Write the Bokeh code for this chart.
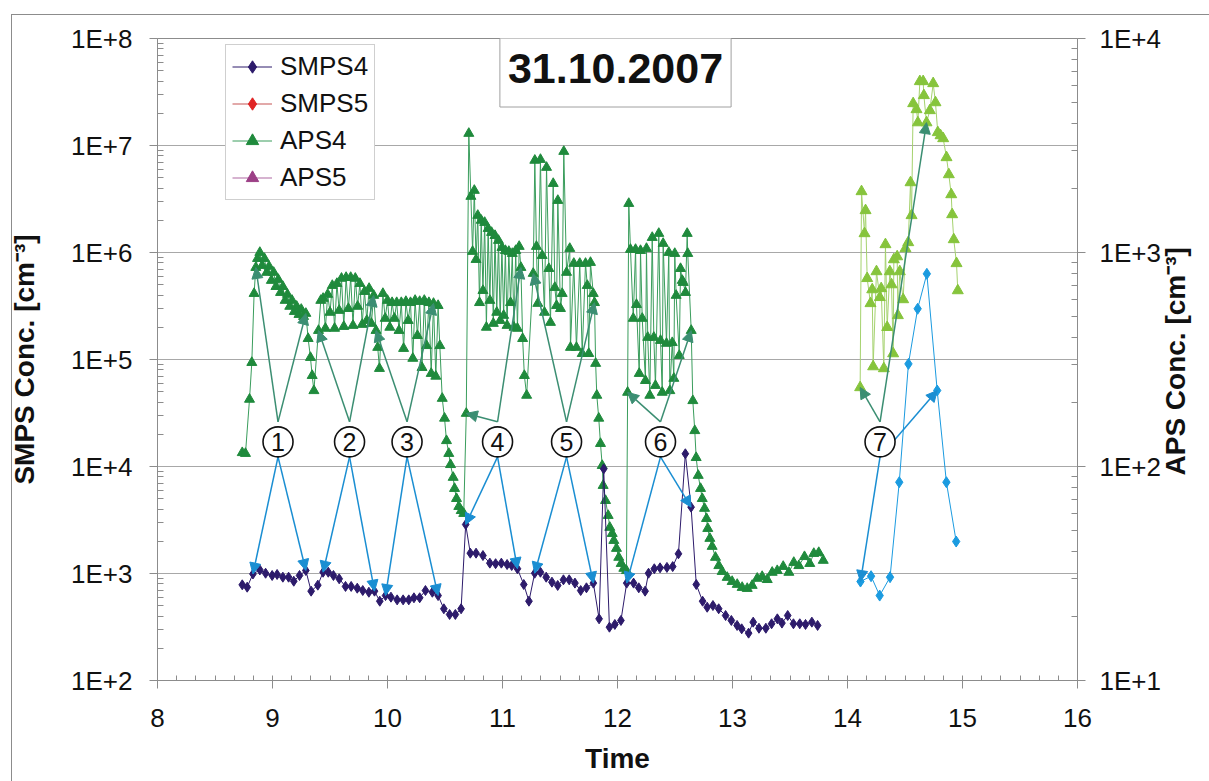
import math
from bokeh.plotting import figure
from bokeh.models import (Range1d, LogScale, LogAxis, FixedTicker, CustomJSTickFormatter,
                          Legend, LegendItem, Arrow, NormalHead, Label)
from bokeh.embed import file_html
from bokeh.resources import INLINE
from bokeh.core.properties import value

# ---------------- data ----------------
# SMPS4, left axis [cm^-3]
smps4_t = [8.737, 8.78, 8.83, 8.89, 8.94, 8.997, 9.04, 9.09, 9.14, 9.185, 9.235, 9.29, 9.336, 9.394,
           9.44, 9.485, 9.53, 9.58, 9.635, 9.684, 9.737, 9.785, 9.838, 9.887, 9.933, 9.983, 10.03,
           10.084, 10.136, 10.185, 10.23, 10.28, 10.33, 10.39, 10.44, 10.49, 10.54, 10.59, 10.64,
           10.68, 10.72, 10.77, 10.83, 10.89, 10.94, 10.99, 11.04, 11.08, 11.13, 11.185, 11.23, 11.28,
           11.33, 11.38, 11.43, 11.48, 11.53, 11.58, 11.63, 11.68, 11.73, 11.79, 11.84, 11.88, 11.93,
           11.977, 12.03, 12.08, 12.14, 12.185, 12.24, 12.27, 12.32, 12.37, 12.43, 12.48, 12.53, 12.59,
           12.64, 12.685, 12.74, 12.78, 12.83, 12.88, 12.94, 12.99, 13.04, 13.08, 13.14, 13.18, 13.23,
           13.29, 13.34, 13.39, 13.43, 13.48, 13.53, 13.585, 13.635, 13.69, 13.74]
smps4_v = [784, 745, 990, 1080, 1006, 958, 979, 924, 924, 847, 958, 1067, 684, 778,
           1028, 1028, 958, 892, 757, 757, 729, 693, 668, 684, 551, 622, 601,
           567, 567, 567, 593, 593, 693, 668, 622, 468, 414, 414, 468,
           2870, 1549, 1549, 1472, 1250, 1235, 1250, 1213, 1188, 1107, 789, 551, 1006,
           1028, 924, 830, 773, 873, 873, 813, 693, 735, 813, 377, 9500, 315,
           334, 364, 813, 813, 735, 684, 1006, 1107, 1130, 1140, 1160, 1528, 13150,
           4170, 789, 551, 484, 502, 468, 405, 364, 327, 304, 277, 351, 308,
           308, 339, 377, 344, 405, 339, 339, 334, 351, 327]

# later SMPS measurement (light blue), left axis
smps_late_t = [14.113, 14.205, 14.28, 14.37, 14.45, 14.53, 14.61, 14.69, 14.78, 14.86, 14.945]
smps_late_v = [841, 944, 622, 924, 7130, 91000, 298000, 632000, 51300, 7130, 1990]

# APS4, right axis [cm^-3]
aps4_t = [8.737, 8.765, 8.80, 8.82, 8.84, 8.855,
          8.87, 8.89, 8.91, 8.93, 8.95, 8.97, 8.99, 9.01, 9.03, 9.05, 9.07, 9.09, 9.11, 9.13, 9.15,
          9.17, 9.19, 9.21, 9.23, 9.25, 9.27, 9.29,
          9.31, 9.33, 9.345, 9.36,
          9.40, 9.42, 9.44, 9.46, 9.48, 9.50, 9.52, 9.54, 9.56, 9.58, 9.60, 9.62, 9.64, 9.66, 9.68,
          9.70, 9.72, 9.74, 9.76, 9.78, 9.80, 9.82, 9.84, 9.86, 9.88, 9.90, 9.915, 9.93,
          9.96, 9.98, 10.00, 10.02, 10.04, 10.06, 10.08, 10.10, 10.12, 10.14, 10.16, 10.18, 10.20,
          10.22, 10.24, 10.26, 10.28, 10.30, 10.32, 10.34, 10.36, 10.38, 10.40, 10.42, 10.44, 10.455,
          10.476, 10.496, 10.513, 10.533, 10.548, 10.571, 10.583, 10.60, 10.62, 10.641, 10.663, 10.685,
          10.707, 10.725, 10.74, 10.755, 10.77, 10.785, 10.80, 10.815, 10.83, 10.845, 10.86, 10.875,
          10.89, 10.905, 10.92, 10.935, 10.95, 10.965, 10.98, 10.995, 11.01, 11.025, 11.04, 11.055,
          11.07, 11.085, 11.10, 11.115, 11.13, 11.145, 11.16, 11.175, 11.19, 11.21,
          11.267, 11.281, 11.295, 11.307, 11.33, 11.345, 11.365, 11.383, 11.403, 11.417, 11.441,
          11.455, 11.47, 11.481, 11.504, 11.519, 11.533, 11.557, 11.585, 11.591, 11.62, 11.643,
          11.672, 11.693, 11.722, 11.737, 11.75, 11.765, 11.789, 11.80, 11.81, 11.82,
          11.837, 11.852, 11.867, 11.875, 11.896, 11.919, 11.933, 11.954, 11.968, 11.991, 12.011,
          12.032, 12.055, 12.078, 12.088, 12.098,
          12.113, 12.137, 12.157, 12.165, 12.189, 12.20, 12.215, 12.243, 12.252, 12.263, 12.281,
          12.302, 12.316, 12.33, 12.359, 12.374, 12.389, 12.397, 12.426, 12.446, 12.455, 12.476,
          12.49, 12.498, 12.51, 12.537, 12.548, 12.563, 12.571, 12.591, 12.606, 12.611, 12.641, 12.655,
          12.672, 12.684, 12.702, 12.722, 12.737, 12.757, 12.774, 12.785, 12.803, 12.823, 12.852,
          12.881, 12.91, 12.954, 12.997, 13.041, 13.084, 13.128, 13.171, 13.215, 13.258, 13.302,
          13.345, 13.389, 13.441, 13.49, 13.533, 13.577, 13.626, 13.672, 13.707, 13.75, 13.789]
aps4_v = [116, 115, 206, 306, 643, 851,
          937, 1000, 869, 937, 807, 861, 740, 807, 693, 748, 650, 693, 597, 637, 560,
          597, 530, 560, 513, 542, 502, 519,
          396, 323, 266, 226,
          432, 597, 610, 442, 637, 525, 701, 442, 716, 536, 757, 451, 764, 547, 764,
          456, 757, 560, 716, 461, 657, 481, 679, 466, 630, 432, 360, 287,
          643, 492, 597, 447, 583, 492, 583, 432, 583, 356, 590, 481, 583,
          320, 597, 409, 590, 290, 597, 367, 583, 272, 578, 264, 565, 367,
          208, 168, 132, 115, 102, 88.9, 78.9, 70.8, 65.0, 62.2, 60.3, 177,
          3600, 1828, 1011, 1950, 927, 1490, 583, 1413, 664, 1381, 447, 1294,
          597, 1240, 466, 1200, 525, 1138, 481, 1055, 508, 1021, 456, 1011,
          583, 989, 447, 1021, 442, 1067, 851, 396, 266, 215,
          798, 2695, 1067, 578, 2720, 968, 525, 2497, 841, 471, 2100,
          686, 565, 1750, 547, 643, 2965, 807, 1044, 360, 889, 360,
          889, 337, 889, 701, 337, 898, 643, 583, 303, 215,
          168, 128, 101, 81.5, 69.3, 59.0, 51.9, 48.6, 45.1, 41.4, 37.6,
          35.2, 33.4, 32.6, 222, 1694,
          1033, 492, 1033, 571, 272, 1021, 492, 252, 1044, 401, 215,
          1175, 401, 239, 1227, 388, 222, 1102, 376, 1000, 226, 379,
          258, 989, 630, 330, 841, 740, 724, 650, 1227, 989, 432, 203,
          147, 110, 90.8, 78.9, 70.8, 63.7, 57.1, 51.3, 46.1, 42.3, 37.6,
          34.4, 32.3, 30.3, 29.0, 28.1, 27.2, 26.9, 27.8, 30.0, 30.6, 29.6,
          32.0, 32.6, 34.1, 32.0, 35.6, 34.4, 37.9, 35.2, 39.2, 39.6, 36.4]

# later APS measurement (light green), right axis
aps_late_t = [14.11, 14.122, 14.148, 14.157, 14.171, 14.20, 14.215, 14.223, 14.252, 14.281,
              14.293, 14.316, 14.33, 14.345, 14.368, 14.383, 14.397, 14.403, 14.432, 14.438,
              14.455, 14.484, 14.504, 14.528, 14.548, 14.557, 14.571, 14.60, 14.612, 14.629,
              14.658, 14.664, 14.687, 14.716, 14.745, 14.765, 14.785, 14.809, 14.832, 14.861,
              14.881, 14.902, 14.91, 14.924, 14.948, 14.959]
aps_late_v = [234, 1928, 1227, 1572, 757, 578, 671, 293, 815, 617,
              679, 287, 1090, 447, 815, 708, 337, 927, 957, 508,
              815, 603, 1044, 1114, 2123, 1490, 4970, 4660, 4045, 6300,
              6300, 5420, 4045, 4610, 6165, 5020, 3640, 3520, 3410, 2780,
              2314, 1866, 1505, 1150, 889, 664]

# numbered annotations: label time, APS targets (times), SMPS targets (times)
ann_labels = ["1", "2", "3", "4", "5", "6", "7"]
ann_t = [9.048, 9.67, 10.17, 10.957, 11.557, 12.374, 14.283]
ann_y = 1.7e4
ann_aps_targets = [(8.855, 9.29), (9.40, 9.88), (9.90, 10.40), (10.685, 11.16),
                   (11.267, 11.80), (12.088, 12.641), (14.11, 14.687)]
ann_smps_targets = [(8.83, 9.29), (9.44, 9.887), (9.983, 10.44), (10.68, 11.13),
                    (11.28, 11.79), (12.08, 12.64), (14.113, 14.78)]

title_text = "31.10.2007"
left_title = "SMPS Conc. [cm⁻³]"
right_title = "APS Conc. [cm⁻³]"
x_title = "Time"
x_ticks = [8, 9, 10, 11, 12, 13, 14, 15, 16]
left_ticks = [1e2, 1e3, 1e4, 1e5, 1e6, 1e7, 1e8]
right_ticks = [1e1, 1e2, 1e3, 1e4]

# ---------------- styling ----------------
FONT = "Liberation Sans"
GREY = "#8c8c8c"
C_SMPS4 = "#2d1b6b"
C_SMPS5 = "#e02424"
C_APS4 = "#1f8a3c"
C_APS4_LINE = "#3a9d5c"
C_APS5 = "#9c3f86"
C_LBLUE = "#1b9be0"
C_LGREEN = "#86c43c"
C_LGREEN_LINE = "#a5d26e"
C_TEAL = "#3b8e72"
C_BLUE = "#1a8ed2"

W, H = 1209, 781
FL, FR, FT, FB = 157, 132, 38, 101   # frame borders
frame_h = H - FT - FB
dec_px = frame_h / 6.0

p = figure(width=W, height=H, x_range=Range1d(8, 16), y_range=Range1d(1e2, 1e8),
           y_axis_type="log", output_backend="svg", toolbar_location=None,
           min_border_left=FL, min_border_right=FR, min_border_top=FT, min_border_bottom=FB)
# outer chart-area border (top and left edges), drawn as CSS background behind a transparent border fill
p.border_fill_alpha = 0
p.styles = {"background": ("linear-gradient(#8c8c8c,#8c8c8c) 11px 14px / 1px 767px no-repeat, "
                           "linear-gradient(#8c8c8c,#8c8c8c) 11px 14px / 1198px 1px no-repeat, #ffffff")}
p.outline_line_color = GREY
p.background_fill_color = "white"

fmt_code = 'return "1E+" + Math.round(Math.log10(tick));'


def style_axis(ax):
    ax.axis_line_color = GREY
    ax.major_tick_line_color = GREY
    ax.minor_tick_line_color = GREY
    ax.major_tick_out = 8
    ax.major_tick_in = 0
    ax.minor_tick_in = 6
    ax.minor_tick_out = 0
    ax.major_label_text_font = FONT
    ax.major_label_text_font_size = "26px"
    ax.major_label_text_color = "#111111"
    ax.axis_label_text_font = FONT
    ax.axis_label_text_font_style = "bold"
    ax.axis_label_text_font_size = "28px"
    ax.axis_label_text_color = "#111111"


# left axis
lax = p.yaxis[0]
left_ticker = FixedTicker(ticks=left_ticks,
                          minor_ticks=[m * 10 ** k for k in range(2, 8) for m in range(2, 10)])
lax.ticker = left_ticker
lax.formatter = CustomJSTickFormatter(code=fmt_code)
style_axis(lax)
lax.major_label_standoff = 17
lax.axis_label = left_title
lax.axis_label_standoff = 28

# bottom axis
bax = p.xaxis[0]
bax.ticker = FixedTicker(ticks=x_ticks, minor_ticks=[8 + k / 6.0 for k in range(49)])
style_axis(bax)
bax.minor_tick_in = 5
bax.major_label_standoff = 20
bax.axis_label = x_title
bax.axis_label_standoff = 13

# right axis
p.extra_y_ranges = {"aps": Range1d(1e1, 1e4)}
p.extra_y_scales = {"aps": LogScale()}
rax = LogAxis(y_range_name="aps",
              ticker=FixedTicker(ticks=right_ticks,
                                 minor_ticks=[m * 10 ** k for k in range(1, 4) for m in range(2, 10)]),
              formatter=CustomJSTickFormatter(code=fmt_code))
style_axis(rax)
rax.major_label_standoff = 14
p.add_layout(rax, "right")

# right axis title, reading bottom-to-top, carried by a bare outer axis whose single
# label starts a little below the middle of the frame so that the text is centred on it
title_start_px = frame_h / 2 + 116          # pixels below the top of the frame
title_anchor = 10 ** (4 - 0.5 * title_start_px / dec_px)
tax = LogAxis(y_range_name="aps", ticker=FixedTicker(ticks=[title_anchor], minor_ticks=[]),
              formatter=CustomJSTickFormatter(code='return "%s";' % right_title))
tax.axis_line_color = None
tax.major_tick_line_color = None
tax.minor_tick_line_color = None
tax.major_tick_out = 0
tax.major_tick_in = 0
tax.major_label_orientation = math.pi / 2
tax.major_label_standoff = 12
tax.major_label_text_font = FONT
tax.major_label_text_font_style = "bold"
tax.major_label_text_font_size = "28px"
tax.major_label_text_color = "#111111"
p.add_layout(tax, "right")

p.ygrid.ticker = left_ticker
p.ygrid.grid_line_color = "#a8a8a8"
p.xgrid.visible = False

# ---------------- series ----------------
def n2(a, b):
    n = min(len(a), len(b))
    return list(a[:n]), list(b[:n])

st, sv = n2(smps4_t, smps4_v)
at, av = n2(aps4_t, aps4_v)
lt, lv = n2(aps_late_t, aps_late_v)
bt, bv = n2(smps_late_t, smps_late_v)

r_aps4_l = p.line(at, av, y_range_name="aps", line_color=C_APS4_LINE, line_width=1)
r_aps4_m = p.scatter(at, av, y_range_name="aps", marker="triangle", size=10,
                     fill_color=C_APS4, line_color=C_APS4)
r_apsl_l = p.line(lt, lv, y_range_name="aps", line_color=C_LGREEN_LINE, line_width=1)
r_apsl_m = p.scatter(lt, lv, y_range_name="aps", marker="triangle", size=11,
                     fill_color=C_LGREEN, line_color=C_LGREEN)

r_smps4_l = p.line(st, sv, line_color=C_SMPS4, line_width=1)
r_smps4_m = p.scatter(st, sv, marker="diamond", size=10,
                      fill_color=C_SMPS4, line_color=C_SMPS4)
r_smpsl_l = p.line(bt, bv, line_color=C_LBLUE, line_width=1)
r_smpsl_m = p.scatter(bt, bv, marker="diamond", size=11,
                      fill_color=C_LBLUE, line_color=C_LBLUE)

# series that only appear in the legend (no visible data in this day)
nan = float("nan")
r_smps5_l = p.line([nan], [nan], line_color="#d98c8c", line_width=1.5)
r_smps5_m = p.scatter([nan], [nan], marker="diamond", size=10,
                      fill_color=C_SMPS5, line_color=C_SMPS5)
r_aps5_l = p.line([nan], [nan], y_range_name="aps", line_color="#c99ac0", line_width=1.5)
r_aps5_m = p.scatter([nan], [nan], y_range_name="aps", marker="triangle", size=10,
                     fill_color=C_APS5, line_color=C_APS5)


# ---------------- annotations ----------------
def nearest(ts, vs, t):
    i = min(range(len(ts)), key=lambda k: abs(ts[k] - t))
    return ts[i], vs[i]


up = 10 ** (20 / dec_px)
down = 10 ** (15 / dec_px)
for i, t0 in enumerate(ann_t):
    late = t0 > 14
    a_ts, a_vs = (lt, lv) if late else (at, av)
    s_ts, s_vs = (bt, bv) if late else (st, sv)
    for tt in ann_aps_targets[i]:
        xe, ye = nearest(a_ts, a_vs, tt)
        p.add_layout(Arrow(end=NormalHead(size=11, fill_color=C_TEAL, line_color=C_TEAL, line_width=1),
                           x_start=t0, y_start=ann_y * up, x_end=xe, y_end=ye ** 2,
                           line_color=C_TEAL, line_width=1.5))
    for tt in ann_smps_targets[i]:
        xe, ye = nearest(s_ts, s_vs, tt)
        p.add_layout(Arrow(end=NormalHead(size=11, fill_color=C_BLUE, line_color=C_BLUE, line_width=1),
                           x_start=t0, y_start=ann_y / down, x_end=xe, y_end=ye,
                           line_color=C_BLUE, line_width=1.5))

p.scatter(ann_t, [ann_y] * len(ann_t), marker="circle", size=30, fill_color="white",
          line_color="#111111", line_width=1.6, level="overlay")
p.text(ann_t, [ann_y] * len(ann_t), text=ann_labels, text_align="center", text_baseline="middle",
       text_font=value(FONT), text_font_size="25px", text_color="#111111", level="overlay")

# legend
legend = Legend(items=[
    LegendItem(label="SMPS4", renderers=[r_smps4_l, r_smps4_m]),
    LegendItem(label="SMPS5", renderers=[r_smps5_l, r_smps5_m]),
    LegendItem(label="APS4", renderers=[r_aps4_l, r_aps4_m]),
    LegendItem(label="APS5", renderers=[r_aps5_l, r_aps5_m]),
], location=(68, 480))
legend.border_line_color = "#a0a0a0"
legend.border_line_width = 1
legend.background_fill_color = "white"
legend.background_fill_alpha = 1
legend.label_text_font = FONT
legend.label_text_font_size = "26px"
legend.label_text_color = "#111111"
legend.padding = 6
legend.spacing = 6
legend.glyph_width = 40
legend.glyph_height = 31
legend.label_height = 31
legend.label_standoff = 8
legend.margin = 0
p.add_layout(legend)

# title box
p.add_layout(Label(text=title_text, x=458, y=612, x_units="screen", y_units="screen",
                   text_align="center", text_baseline="middle", text_font=FONT,
                   text_font_style="bold", text_font_size="43px", text_color="#111111",
                   background_fill_color="white", border_line_color="#a0a0a0",
                   border_line_width=1, padding=(8, 24)))

open("out.html", "w").write(file_html(p, INLINE))
